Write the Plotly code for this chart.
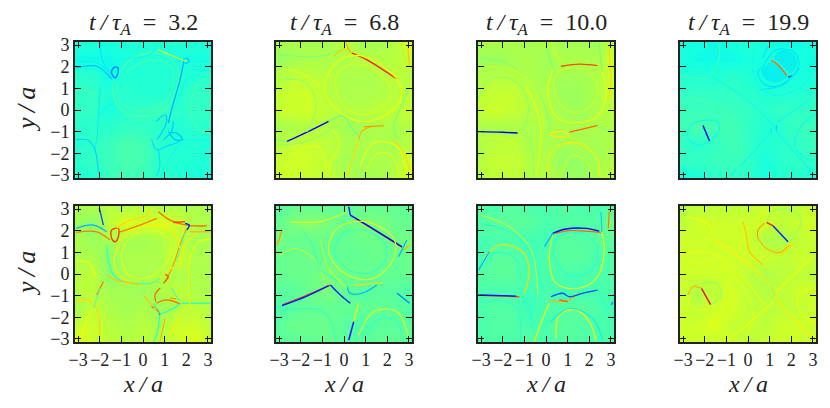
import numpy as np
import plotly.graph_objects as go

# grid of the coarse background field, rows run from y=-pi up to y=+pi
grid = [-3.14, -2.36, -1.57, -0.79, 0, 0.79, 1.57, 2.36, 3.14]
ticks = [-3, -2, -1, 0, 1, 2, 3]
times = ['3.2', '6.8', '10.0', '19.9']

# background level of each panel, as fraction of the colour range
a_bg = [[.39,.39,.42,.43,.42,.40,.39,.38,.38],
        [.40,.41,.42,.44,.43,.40,.39,.39,.39],
        [.39,.41,.42,.44,.43,.40,.39,.39,.38],
        [.40,.40,.40,.41,.41,.40,.39,.40,.40],
        [.41,.41,.38,.40,.41,.42,.40,.41,.41],
        [.41,.41,.39,.40,.39,.39,.39,.41,.41],
        [.40,.40,.37,.39,.39,.39,.39,.39,.40],
        [.37,.37,.37,.38,.39,.39,.38,.38,.38],
        [.39,.39,.38,.39,.39,.39,.39,.39,.39]]
b_bg = [[.59,.60,.59,.58,.56,.55,.55,.57,.62],
        [.59,.60,.60,.58,.55,.55,.56,.56,.61],
        [.57,.59,.59,.58,.56,.56,.56,.55,.58],
        [.55,.56,.57,.57,.55,.55,.56,.56,.57],
        [.59,.60,.60,.58,.57,.57,.58,.58,.59],
        [.58,.60,.60,.57,.56,.56,.56,.57,.58],
        [.56,.58,.58,.57,.56,.56,.56,.58,.57],
        [.53,.55,.56,.56,.56,.57,.57,.57,.59],
        [.55,.56,.55,.55,.58,.55,.55,.57,.62]]
c_bg = [[.57,.58,.58,.56,.57,.55,.53,.56,.58],
        [.57,.59,.59,.57,.56,.53,.53,.55,.57],
        [.56,.58,.58,.56,.56,.55,.56,.55,.57],
        [.56,.56,.56,.56,.56,.56,.55,.56,.56],
        [.58,.60,.59,.57,.56,.55,.54,.56,.58],
        [.58,.59,.59,.57,.56,.54,.54,.56,.59],
        [.56,.57,.57,.56,.55,.55,.55,.56,.60],
        [.54,.54,.55,.56,.55,.56,.56,.56,.60],
        [.56,.56,.56,.55,.56,.55,.55,.55,.57]]
d_bg = [[.38,.38,.40,.41,.40,.38,.39,.39,.38],
        [.41,.41,.42,.42,.41,.38,.40,.41,.41],
        [.41,.40,.41,.43,.41,.39,.40,.41,.42],
        [.42,.44,.43,.43,.41,.39,.40,.42,.42],
        [.42,.42,.42,.42,.41,.40,.41,.41,.41],
        [.41,.41,.41,.41,.40,.39,.39,.39,.40],
        [.39,.39,.39,.40,.39,.38,.38,.38,.38],
        [.38,.37,.37,.37,.38,.38,.38,.38,.37],
        [.38,.38,.37,.38,.39,.38,.37,.37,.38]]
e_bg = [[.62,.60,.58,.57,.58,.57,.60,.62,.60],
        [.59,.60,.57,.56,.57,.56,.60,.60,.58],
        [.55,.58,.56,.55,.56,.54,.56,.58,.57],
        [.57,.58,.55,.55,.54,.56,.58,.56,.56],
        [.57,.58,.52,.56,.56,.56,.56,.56,.56],
        [.56,.56,.52,.56,.56,.56,.60,.56,.56],
        [.56,.54,.55,.55,.55,.56,.58,.55,.56],
        [.54,.52,.58,.62,.60,.62,.60,.56,.56],
        [.56,.56,.57,.56,.57,.56,.56,.56,.56]]
f_bg = [[.46,.46,.47,.48,.46,.46,.47,.47,.46],
        [.46,.48,.48,.48,.46,.44,.46,.46,.46],
        [.44,.46,.47,.47,.47,.47,.47,.46,.45],
        [.46,.46,.48,.50,.47,.45,.46,.46,.44],
        [.47,.48,.48,.50,.48,.48,.47,.47,.48],
        [.47,.48,.48,.47,.47,.47,.48,.47,.48],
        [.50,.47,.48,.47,.47,.48,.48,.48,.50],
        [.47,.50,.52,.50,.47,.50,.50,.48,.47],
        [.45,.47,.47,.47,.47,.47,.47,.47,.47]]
g_bg = [[.44,.45,.44,.46,.44,.45,.45,.44,.44],
        [.44,.45,.45,.44,.44,.46,.45,.44,.44],
        [.44,.45,.45,.42,.44,.45,.46,.44,.43],
        [.44,.44,.44,.43,.44,.43,.43,.44,.44],
        [.45,.46,.46,.44,.44,.44,.44,.44,.45],
        [.43,.46,.46,.43,.44,.46,.46,.44,.45],
        [.43,.44,.44,.43,.43,.46,.45,.46,.46],
        [.45,.46,.46,.46,.44,.45,.45,.45,.50],
        [.45,.44,.46,.44,.44,.45,.44,.44,.45]]
h_bg = [[.60,.60,.59,.60,.57,.59,.60,.60,.58],
        [.60,.60,.62,.59,.59,.58,.60,.60,.60],
        [.60,.58,.60,.61,.58,.58,.58,.58,.60],
        [.60,.56,.58,.61,.58,.57,.58,.60,.60],
        [.60,.60,.60,.60,.58,.56,.58,.58,.58],
        [.60,.60,.60,.60,.60,.60,.58,.60,.58],
        [.60,.60,.60,.60,.60,.56,.56,.58,.60],
        [.58,.60,.60,.60,.60,.60,.58,.60,.60],
        [.56,.58,.58,.58,.58,.60,.58,.58,.60]]

# current sheets and filaments: (level, points along it in x/a, y/a)
a_fil = [
    (.35, [(-1.98,3.09),(-1.91,2.4),(-1.68,1.94),(-1.45,1.71)]),
    (.36, [(-3.09,2.22),(-2.14,2.17),(-1.45,1.63)]),
    (.31, [(-3.09,1.94),(-2.14,2.02),(-1.45,1.43)]),
    (.24, [(-1.37,1.94),(-1.18,1.97),(-1.14,1.78),(-1.29,1.48),(-1.45,1.71),(-1.37,1.94)]),
    (.46, [(-1.06,1.78),(-.45,2.4),(.48,2.63),(1.25,2.4),(1.63,1.78),(1.55,.94),(.94,-.06),(.02,-.29),(-.91,-.06),(-1.37,.71),(-1.37,1.4)]),
    (.29, [(1.89,2.25),(1.71,1.4),(1.32,.02),(1.17,-.6)]),
    (.62, [(.71,2.78),(1.4,2.48),(2.02,2.25)]),
    (.32, [(1.86,2.32),(2.02,2.4),(2.14,2.25),(1.94,2.14)]),
    (.37, [(2.17,2.25),(3.09,2.22)]),
    (.37, [(2.17,1.86),(3.09,1.83)]),
    (.33, [(-3.09,-1.37),(-2.52,-1.4),(-2.22,-1.83),(-2.06,-2.91)]),
    (.36, [(-1.98,1.09),(-2.06,-.29),(-2.14,-1.37),(-2.22,-1.75)]),
    (.32, [(.63,-.52),(1.02,-.22),(1.09,-.52),(.86,-1.06),(.63,-1.37)]),
    (.31, [(1.25,-1.06),(1.55,-1.06),(1.83,-1.37),(1.48,-1.37),(1.17,-.98)]),
    (.34, [(.4,-1.37),(.63,-1.83),(1.09,-1.68),(1.71,-1.45)]),
    (.35, [(.71,-1.83),(.78,-2.6),(.63,-3.06)]),
    (.32, [(.94,-1.37),(1.32,-.98),(1.4,-.52)]),
    (.37, [(1.86,-1.37),(3.09,-1.37)]),
    (.37, [(1.71,-1.55),(1.09,-2.45),(.82,-3.06)]),
    (.37, [(-1.37,.32),(-1.83,.02),(-2.06,-.29)]),
    (.37, [(.63,3.09),(.55,2.78),(.17,2.48),(-1.06,2.32),(-1.68,1.94)]),
    (.37, [(2.63,1.63),(2.0,1.4),(1.71,.63),(1.4,.02)]),
    (.44, [(-1.2,.9),(-.6,1.9),(.5,2.3),(1.3,2),(1.3,.9),(.7,.1),(-.2,-.05),(-1.0,.3),(-1.2,.9)]),
    (.44, [(-3.1,.9),(-2.3,.8),(-2.1,.1)]),
    (.44, [(2.9,1.5),(2.4,1.0),(2.2,-.2),(2.6,-.9),(3.1,-1.1)]),
]
b_fil = [
    (.88, [(.37,2.63),(1.06,2.32),(2.45,1.43)]),
    (.12, [(-2.63,-1.45),(-1.71,-1.02),(-.71,-.52)]),
    (.72, [(.11,3.09),(.22,2.78),(.37,2.63)]),
    (.7, [(-.48,2.5),(.06,2.86)]),
    (.75, [(.91,-.78),(1.83,-.72)]),
    (.72, [(.68,-1.37),(.83,-.98),(1.22,-.78)]),
    (.68, [(.68,-1.37),(.45,-2.14),(.14,-3.06)]),
    (.64, [(-.78,1.55),(-.17,2.32),(.91,2.48),(2.45,1.4),(2.6,.48),(1.83,-.29),(.75,-.52),(-.32,.02),(-.86,.78),(-.78,1.55)]),
    (.46, [(-.71,-.52),(-.02,-.29),(.29,-.75),(.68,-1.22)]),
    (.5, [(-2.94,2.55),(-1.09,2.48),(-.17,2.78)]),
    (.7, [(2.94,3.02),(3.03,2.02)]),
    (.68, [(3.03,-2.75),(2.83,-2.14),(2.29,-1.37)]),
    (.48, [(2.98,.94),(2.45,-.29),(2.29,-.75),(2.45,-1.37)]),
    (.47, [(-2.63,-1.45),(-3.09,-1.37)]),
    (.52, [(-2.8,1.4),(-1.8,1.3),(-1.3,.4),(-1.4,-.3),(-1.71,-1.02)]),
    (.64, [(.75,-2.6),(1.37,-1.52),(2.45,-1.68),(2.83,-2.91)]),
    (.61, [(-.4,1.4),(0,2.0),(.9,2.1),(2,1.3),(2.1,.6),(1.4,-.05),(.7,-.2),(-.1,.3),(-.4,1.4)]),
    (.63, [(-.55,-.85),(-.2,-1.6),(-.65,-2.5),(-.6,-3.1)]),
    (.52, [(-3.1,-1.6),(-2.2,-1.55),(-1.1,-1.2),(-.3,-.7)]),
    (.62, [(-3.1,1.7),(-2.6,1.9),(-1.7,1.55),(-1.1,1.1)]),
    (.63, [(-2.9,-2.9),(-2.1,-1.9),(-1.2,-1.7),(-.8,-2.8)]),
    (.62, [(1.0,-2.9),(1.55,-2.0),(2.2,-2.1),(2.5,-2.9)]),
]
c_fil = [
    (.83, [(.69,2.02),(1.54,2.12),(2.38,2.05)]),
    (.1, [(-3.12,-1),(-2.0,-1.03),(-1.31,-1.06)]),
    (.8, [(1.08,-1.02),(1.69,-.88),(2.38,-.71)]),
    (.66, [(.15,-1.14),(.77,-.98),(1.08,-1.22),(.54,-1.22),(.15,-1.14)]),
    (.64, [(.31,1.86),(.08,.94),(.46,-.29),(1.38,-.6),(2.38,-.29),(2.77,.63),(2.58,1.78),(2.38,2.05)]),
    (.52, [(-3.12,.48),(-2.62,1.4),(-1.54,1.4),(-.85,.48),(-.92,-.6),(-1.23,-.98)]),
    (.64, [(-.92,1.09),(-.38,-.14),(-.23,-1.37),(-.46,-3.06)]),
    (.48, [(0,2.94),(.31,1.94)]),
    (.5, [(-3,2.4),(-1.69,2.09),(-.77,1.4),(0,.02),(.15,-1.14)]),
    (.48, [(2.46,3.09),(2.58,1.78)]),
    (.68, [(2.88,3.02),(3,1.25),(2.85,.48)]),
    (.66, [(.08,-2.91),(.31,-1.83),(1.38,-1.52),(2.31,-2.14),(2.46,-3.06)]),
    (.52, [(-1.08,-.98),(-.77,-1.37),(-.54,-3.06)]),
    (.5, [(2.38,-.71),(2.92,-1.06)]),
    (.6, [(.4,1.5),(.5,.5),(1.2,-.1),(2.1,.2),(2.4,1.1),(1.9,1.8),(.9,1.9),(.4,1.5)]),
    (.6, [(-3.1,1.9),(-2,1.95),(-.9,1.5),(-.3,.5),(-.1,-.8)]),
    (.61, [(-3.1,-1.35),(-2.2,-1.3),(-1.4,-1.6),(-1.2,-3.1)]),
    (.6, [(.7,-3),(1.2,-2.1),(1.9,-2.4),(2.1,-3)]),
    (.6, [(.25,3.1),(.55,2.4),(.9,2.3)]),
]
d_fil = [
    (.8, [(1.08,2.29),(1.38,2.09),(1.8,1.58)]),
    (.2, [(1.85,1.52),(2.05,1.58)]),
    (.1, [(-2.08,-.72),(-1.77,-1.45)]),
    (.35, [(.69,2.02),(.92,2.4),(1.31,2.78),(2.08,2.71),(2.35,2.17),(2.08,1.58),(1.31,1.09),(.69,1.25),(.46,1.78),(.69,2.02)]),
    (.37, [(-2.77,-.98),(-2.54,-.63),(-2.08,-.48),(-1.46,-.52),(-1.31,-.83),(-1.77,-1.45),(-2.38,-1.6),(-2.77,-1.29),(-2.77,-.98)]),
    (.37, [(-1.77,1.86),(-2.08,2.4)]),
    (.37, [(-1.69,1.55),(-.23,.63),(1,-.52),(1.31,-.98),(3,-2.91)]),
    (.33, [(1.31,-.68),(1.31,-.98)]),
    (.35, [(1.08,-1.06),(1.08,-.85)]),
    (.37, [(1,-1.06),(-.08,-2.29),(-.85,-3.06)]),
    (.37, [(2.85,.48),(1.31,-.6)]),
    (.35, [(.92,2.94),(.69,2.4)]),
    (.35, [(.54,.94),(1.62,1.17),(2.38,1.94)]),
    (.44, [(-3.1,.6),(-1.8,.35),(-.6,-.6),(-.3,-1.8),(-.6,-3.1)]),
    (.37, [(.3,2.9),(.2,1.9),(.7,.9),(1.6,.7),(2.7,1.3),(3.1,2.5)]),
    (.43, [(-3.1,1.6),(-1.85,1.5),(-1.4,2.2),(-1.3,3.1)]),
    (.37, [(3.1,-.2),(2.4,-.8),(2.2,-1.8),(3.0,-2.4)]),
]
e_fil = [
    (.2, [(-2.02,3.06),(-1.83,2.26)]),
    (.78, [(-3.09,1.92),(-2.14,1.95),(-1.52,1.57)]),
    (.3, [(-3.09,2.11),(-2.29,2.26),(-1.68,1.95)]),
    (.85, [(-1.45,2.03),(-1.14,2.11),(-1.14,1.72),(-1.29,1.49),(-1.45,1.65),(-1.45,2.03)]),
    (.78, [(-1.06,1.95),(-.14,2.26),(.63,2.57)]),
    (.8, [(.71,2.88),(1.25,2.49),(2.02,2.26),(2.94,2.22)]),
    (.15, [(1.94,2.34),(2.14,2.26),(2.02,2.03)]),
    (.85, [(1.4,2.38),(1.94,2.42)]),
    (.72, [(2.17,1.95),(3.09,1.95)]),
    (.75, [(2.02,2.11),(1.71,1.34),(1.4,.42),(1.02,-.35)]),
    (.45, [(1.94,1.88),(1.55,.57)]),
    (.66, [(-1.29,.8),(-.91,1.72),(.32,2.26),(1.32,2.03),(1.71,1.18)]),
    (.66, [(1.4,.34),(.48,-.35),(-.45,-.43),(-1.22,.11),(-1.37,.8)]),
    (.4, [(-1.68,1.34),(-1.45,.11),(-1.06,-.28),(.32,-.43),(.78,-.2)]),
    (.82, [(1.02,-.02),(1.17,-.12),(.94,-.43)]),
    (.7, [(-1.68,-.05),(-1.22,-.28),(-.14,-.48)]),
    (.78, [(-1.83,-.35),(-2.14,-.97)]),
    (.68, [(-3.09,-1.25),(-2.45,-1.25),(-2.06,-1.82),(-2.02,-3.12)]),
    (.44, [(-1.98,-.66),(-2.29,-1.58)]),
    (.8, [(.63,-.82),(.78,-.66),(.55,-.97),(.6,-1.28)]),
    (.8, [(.63,-1.35),(1.09,-1.2),(1.71,-1.38)]),
    (.75, [(1.25,-1.12),(1.55,-1.15)]),
    (.85, [(.4,-1.51),(.66,-1.66),(.78,-1.89)]),
    (.37, [(.48,-1.35),(.78,-1.82),(1.4,-1.58),(1.71,-1.38)]),
    (.37, [(1.78,-1.35),(3.09,-1.35)]),
    (.38, [(.78,-1.89),(.63,-2.82),(.48,-3.12)]),
    (.72, [(1.02,-2.05),(.78,-3.12)]),
    (.42, [(1.32,-.66),(1.71,-1.28)]),
    (.66, [(1.94,-1.51),(1.25,-2.82)]),
    (.7, [(.02,-.97),(.4,-1.43),(.66,-1.74)]),
    (.66, [(1.71,.26),(1.94,1.34),(2.48,1.88)]),
    (.68, [(.32,3.06),(.17,2.72),(-.75,2.42),(-1.22,2.11)]),
    (.62, [(-1,1.0),(-.3,1.9),(.6,2.0),(1.2,1.6),(1.2,.7),(.4,-.1),(-.6,-.1),(-1,1.0)]),
    (.64, [(2.2,-1.6),(2.1,-.5),(2.2,.8),(2.6,1.5),(3.1,1.6)]),
    (.64, [(-3.1,.6),(-2.5,.5),(-2.15,-.2)]),
    (.64, [(-2.85,-3.1),(-2.6,-2.1),(-2.3,-1.6)]),
]
f_fil = [
    (.8, [(.52,2.57),(1.52,1.95),(2.68,1.23)]),
    (.1, [(.29,2.72),(1.06,2.26),(2.68,1.26)]),
    (.15, [(.22,3.11),(.29,2.72)]),
    (.85, [(-2.86,-1.43),(-1.71,-.97),(-.63,-.51)]),
    (.15, [(-2.86,-1.46),(-1.71,-1.02),(-.71,-.54)]),
    (.15, [(-.63,-.51),(-.17,-.97),(.29,-1.35)]),
    (.3, [(.14,-.58),(.29,-.89),(.83,-.89),(1.52,-.51)]),
    (.68, [(.45,-.51),(1.06,-.48),(1.83,-.38)]),
    (.12, [(.45,-2.2),(.22,-3.05)]),
    (.66, [(.68,-1.35),(.45,-2.2)]),
    (.75, [(-3.09,1.34),(-2.86,2.03)]),
    (.72, [(3.03,1.34),(2.75,1.11)]),
    (.62, [(-.71,1.03),(-.32,2.11),(.98,2.42),(2.29,1.65),(2.29,.72),(1.37,-.2),(.14,-.05),(-.71,1.03)]),
    (.58, [(-1.09,1.65),(-.71,.26),(.14,-.66)]),
    (.58, [(-3.02,.8),(-2.32,1.18),(-1.4,.72),(-.86,-.43)]),
    (.62, [(.68,-2.82),(1.37,-1.74),(2.45,-1.74),(2.98,-2.97)]),
    (.42, [(1.06,-2.82),(1.68,-2.05),(2.45,-2.2),(2.68,-2.97)]),
    (.25, [(2.45,-.89),(3.03,-1.35)]),
    (.62, [(-2.48,2.42),(-1.09,2.42),(.14,2.88)]),
    (.3, [(2.52,.8),(2.9,1.57)]),
    (.42, [(-.45,1.0),(0,1.9),(1,2),(1.9,1.4),(1.9,.6),(1.2,.05),(.2,.2),(-.45,1.0)]),
    (.42, [(-3.1,-1.7),(-2.1,-1.6),(-1,-1.7),(-.5,-2.5),(-.4,-3.1)]),
    (.42, [(-1.9,2.0),(-1.4,1.2),(-1.1,.2),(-.3,-.3)]),
]
g_fil = [
    (.8, [(.46,1.88),(1.08,2),(2.54,1.92)]),
    (.12, [(.31,1.88),(.92,2.08),(1.85,2.11),(2.46,1.98)]),
    (.82, [(-2.85,-1),(-1.23,-1.05)]),
    (.12, [(-3.12,-.97),(-1.38,-1.02)]),
    (.68, [(-1,-.89),(-.77,.11),(-1.08,1.03),(-2.15,1.34),(-2.85,.72)]),
    (.3, [(-3.12,.18),(-2.62,1.03)]),
    (.4, [(-1.08,-1.05),(-.85,-1.43),(-.54,-2.82)]),
    (.64, [(.31,1.8),(.15,.72),(.46,-.43),(1.54,-.66),(2.38,-.12),(2.69,1.03),(2.58,1.95)]),
    (.72, [(.15,-1.2),(.85,-1.28),(1.54,-.89)]),
    (.82, [(.62,-1.2),(1,-1.28)]),
    (.2, [(.23,-1.05),(.77,-.89),(1.08,-1.05),(1.69,-.89),(2.38,-.74)]),
    (.3, [(-.08,1.26),(.31,1.88)]),
    (.66, [(-.54,-3.12),(-.15,-2.05),(.15,-1.35)]),
    (.66, [(.46,-2.97),(.62,-1.89),(1.38,-1.66),(2,-2.2),(2.31,-3.05)]),
    (.36, [(.23,-2.2),(1.08,-1.58),(2.15,-2.05),(2.62,-3.05)]),
    (.78, [(2.92,2.88),(2.88,2.11)]),
    (.33, [(2.54,2.88),(2.58,1.95)]),
    (.4, [(-3,2.34),(-1.38,1.8),(-.62,.72),(-.08,-.82)]),
    (.58, [(-3,2.72),(-1.69,2.18),(-.69,1.11),(-.38,-.97)]),
    (.25, [(3.08,-1.28),(3.02,-1.43)]),
    (.4, [(2.46,-.82),(2.77,-1.58)]),
    (.4, [(.4,1.5),(.5,.5),(1.2,-.1),(2.1,.2),(2.4,1.1),(1.9,1.8),(.9,1.9),(.4,1.5)]),
    (.4, [(-3.1,-1.25),(-2,-1.25),(-1.3,-1.6),(-1.2,-3.1)]),
    (.4, [(-2.9,.5),(-2.2,1),(-1.4,.7),(-1.15,-.2)]),
]
h_fil = [
    (.88, [(.85,2.38),(1.15,2.23)]),
    (.15, [(1.15,2.23),(1.85,1.49)]),
    (.9, [(-2.15,-.66),(-1.72,-1.43)]),
    (.74, [(.46,1.65),(.46,2.03),(.77,2.34)]),
    (.72, [(.46,1.65),(.85,1.18),(1.46,1),(1.92,1.34)]),
    (.52, [(1.92,1.49),(2.46,2.42),(2.08,2.95),(1.15,2.88),(.85,2.38)]),
    (.7, [(-.23,2.42),(-.08,1.8),(.08,1.03),(.69,.42)]),
    (.68, [(1.46,.88),(2.23,1.49)]),
    (.72, [(-2.77,-.97),(-2.54,-.58),(-2.15,-.66)]),
    (.63, [(-2.77,-.97),(-2.62,-1.51),(-2.08,-1.66),(-1.72,-1.43)]),
    (.5, [(-2.08,-.43),(-1.46,-.43),(-1.23,-.97),(-1.72,-1.43)]),
    (.64, [(-1.69,1.8),(-1.77,2.26),(-2.85,2.65)]),
    (.66, [(-1.69,1.65),(-.23,.65),(1.15,-.66),(1.31,-1.12),(3.08,-3.05)]),
    (.64, [(1.15,-1.28),(-.23,-2.51),(-1,-3.12)]),
    (.64, [(1.31,-.82),(3.08,.88)]),
    (.62, [(-3.08,.26),(-1.77,.57),(-.23,-.51),(.23,-2.05),(-.23,-3.12)]),
    (.5, [(1.08,-.51),(1.23,-1.05)]),
    (.63, [(-3.1,.9),(-1.7,.95),(-.2,-.2),(.75,-1.4)]),
    (.63, [(3.1,-.6),(2.3,-1.1),(2.5,-1.9),(3.1,-2.2)]),
]

# cyan lobes of the small island at t=19.9
d_lobes = [
    (.36, [(1.0,2.2),(1.4,2.0),(1.75,1.55),(1.3,1.3),(.8,1.45),(.6,1.85)]),
    (.36, [(1.2,2.4),(1.5,2.72),(2.0,2.65),(2.25,2.2),(2.0,1.75),(1.55,2.1)]),
]

backgrounds = [a_bg, b_bg, c_bg, d_bg, e_bg, f_bg, g_bg, h_bg]
filaments = [a_fil, b_fil, c_fil, d_fil, e_fil, f_fil, g_fil, h_fil]


# matplotlib's jet, which plotly does not ship with the same stops
def jet(v):
    r = np.interp(v, [0, .35, .66, .89, 1], [0, 0, 1, 1, .5])
    g = np.interp(v, [0, .125, .375, .64, .91, 1], [0, 0, 1, 1, 0, 0])
    b = np.interp(v, [0, .11, .34, .65, 1], [.5, 1, 1, 0, 0])
    return 'rgb(%d,%d,%d)' % (r * 255, g * 255, b * 255)


jet_scale = [[i / 40, jet(i / 40)] for i in range(41)]

# panel positions; the page keeps an 8px body margin inside the 830x408 window
W, H = 814, 392
lefts = [67, 268, 470, 672]
tops = [34, 198]
side = 136
serif = '"Liberation Serif", "DejaVu Serif", serif'
ink = '#222'


def label(text, px, py, size, angle=0):
    return dict(text=text, x=px / W, y=1 - py / H, xref='paper', yref='paper', xanchor='center', yanchor='middle',
                textangle=angle, showarrow=False, font=dict(family=serif, size=size, color=ink))


fig = go.Figure()
layout = {}
notes = []
for i in range(8):
    row, col = i // 4, i % 4
    n = i + 1
    fig.add_trace(go.Heatmap(x=grid, y=grid, z=backgrounds[i], zmin=0, zmax=1, zsmooth='best',
                             colorscale=jet_scale, showscale=False,
                             xaxis='x%d' % n, yaxis='y%d' % n))
    if i == 3:
        for level, pts in d_lobes:
            fig.add_trace(go.Scatter(x=[p[0] for p in pts], y=[p[1] for p in pts], mode='lines', fill='toself',
                                     fillcolor=jet(level), line=dict(color=jet(level), width=1, shape='spline'),
                                     showlegend=False, hoverinfo='skip', xaxis='x4', yaxis='y4'))
    for level, pts in filaments[i]:
        fig.add_trace(go.Scatter(x=[p[0] for p in pts], y=[p[1] for p in pts], mode='lines',
                                 line=dict(color=jet(level), width=1.0 + 1.0 * abs(level - 0.5), shape='spline'),
                                 showlegend=False, hoverinfo='skip',
                                 xaxis='x%d' % n, yaxis='y%d' % n))
    axis = dict(range=[-np.pi, np.pi], tickmode='array', tickvals=ticks, ticks='inside', ticklen=6,
                tickwidth=1, tickcolor='#111', mirror='allticks', showline=True, linewidth=2, linecolor=ink,
                showgrid=False, zeroline=False, tickangle=0, automargin=False,
                tickfont=dict(family=serif, size=18, color=ink))
    layout['xaxis%d' % n] = dict(axis, domain=[lefts[col] / W, (lefts[col] + side) / W], anchor='y%d' % n,
                                 showticklabels=row == 1)
    layout['yaxis%d' % n] = dict(axis, domain=[1 - (tops[row] + side) / H, 1 - tops[row] / H], anchor='x%d' % n,
                                 showticklabels=col == 0)
    cx = lefts[col] + side / 2
    if row == 0:
        notes.append(label('<i>t\u2009/\u2009τ<sub>A</sub></i>\u2002=\u2002' + times[col], cx, 16, 24))
    else:
        notes.append(label('<i>x\u2009/\u2009a</i>', cx, 376, 24))
    if col == 0:
        notes.append(label('<i>y\u2009/\u2009a</i>', 18, tops[row] + side / 2, 26, angle=-90))

fig.update_layout(**layout)
fig.update_layout(width=W, height=H, margin=dict(l=0, r=0, t=0, b=0), showlegend=False,
                  plot_bgcolor='white', paper_bgcolor='white', font=dict(family=serif), annotations=notes)
fig.write_html("out.html")
